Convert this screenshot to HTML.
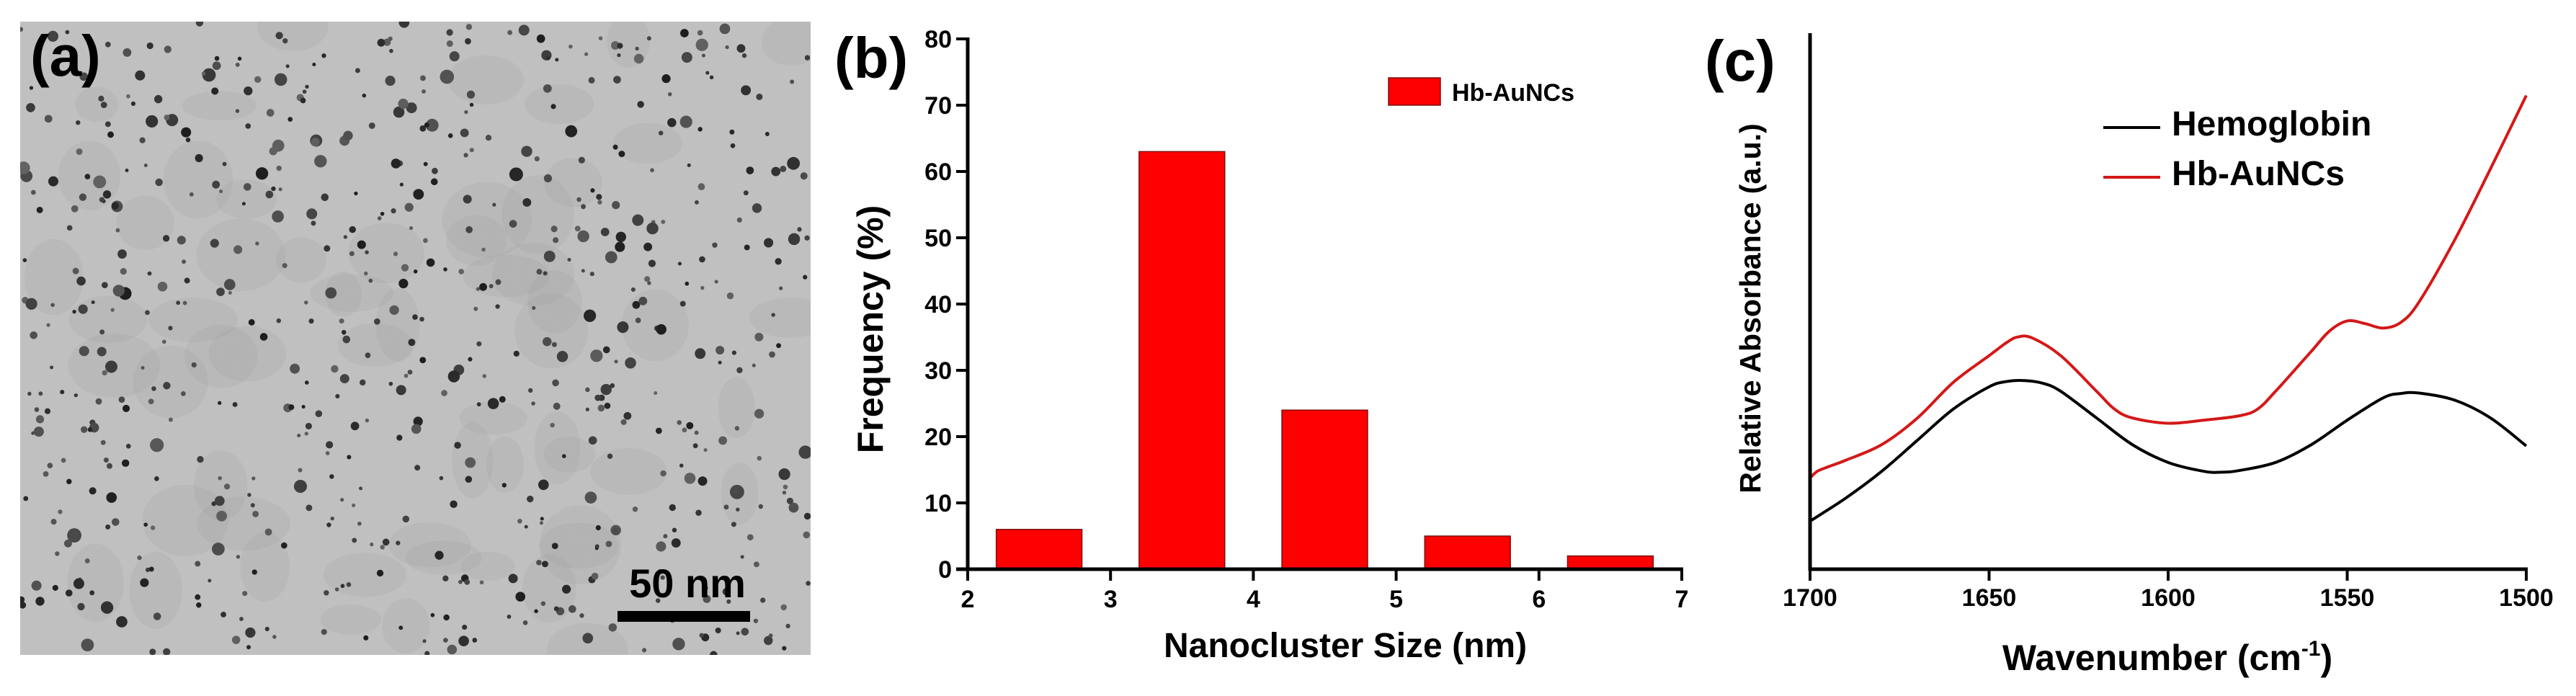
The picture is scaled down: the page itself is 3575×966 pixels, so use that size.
<!DOCTYPE html>
<html><head><meta charset="utf-8"><style>
html,body{margin:0;padding:0;background:#fff;}
svg{display:block;font-family:"Liberation Sans",Arial,sans-serif;font-weight:bold;}
</style></head><body>
<svg id="fig" width="3575" height="966" viewBox="0 0 3575 966" xmlns="http://www.w3.org/2000/svg">
<defs>
<filter id="grain" x="0" y="0" width="100%" height="100%">
<feTurbulence type="fractalNoise" baseFrequency="0.5" numOctaves="2" seed="3"/>
<feColorMatrix type="matrix" values="0 0 0 0 0.55  0 0 0 0 0.55  0 0 0 0 0.55  0 0 0 0.5 0"/>
</filter>
<clipPath id="clipA"><rect x="28" y="30" width="1097" height="879"/></clipPath>
</defs>
<g id="panelA">
<rect x="28" y="30" width="1097" height="879" fill="#bfbfbf"/>
<rect x="28" y="30" width="1097" height="879" filter="url(#grain)"/>
<g id="dots" clip-path="url(#clipA)"></g>
<rect x="857" y="848" width="184" height="15" fill="#000"/>
<text x="954" y="829" font-size="56" text-anchor="middle">50 nm</text>
<text x="42" y="105" font-size="80">(a)</text>
</g>
<g id="panelB"></g>
<g id="panelC"></g>
</svg>
<script>
// ---- Panel b data ----
const binStarts = [2.2, 3.2, 4.2, 5.2, 6.2];
const binEnds = [2.8, 3.8, 4.8, 5.8, 6.8];
const freqValues = [6, 63, 24, 5, 2];
const xTicksB = [2, 3, 4, 5, 6, 7];
const yTicksB = [0, 10, 20, 30, 40, 50, 60, 70, 80];
// ---- Panel c data ----
const wnHb = [1700,1690,1680,1670,1660,1650,1645,1640,1635,1630,1620,1610,1600,1590,1585,1580,1570,1560,1550,1540,1535,1530,1520,1510,1500];
const absHb = [10.8,16.0,22.0,29.0,36.0,41.0,42.2,42.4,41.8,40.0,34.0,28.0,24.0,22.0,21.8,22.2,24.0,28.0,33.5,38.5,39.5,39.6,38.0,34.0,27.7];
const wnAu = [1700,1698,1695,1690,1680,1670,1660,1650,1645,1642,1638,1630,1620,1615,1610,1600,1590,1580,1575,1570,1560,1555,1550,1545,1540,1535,1530,1520,1510,1500];
const absAu = [20.5,22.0,23.0,24.5,28.0,34.0,42.0,48.0,51.0,52.2,52.0,48.0,40.0,36.0,34.0,32.8,33.5,34.5,36.0,40.0,49.0,53.5,55.8,55.2,54.2,55.5,60.0,74.0,90.0,106.5];
const xTicksC = [1700, 1650, 1600, 1550, 1500];

const NS = "http://www.w3.org/2000/svg";
function mk(parent, tag, attrs, text) {
  const e = document.createElementNS(NS, tag);
  for (const k in attrs) e.setAttribute(k, attrs[k]);
  if (text !== undefined) e.textContent = text;
  parent.appendChild(e);
  return e;
}

// TEM dots (decorative)
(function(){
  const g = document.getElementById('dots');
  let s = 12345;
  function rnd(){ s = (s * 1103515245 + 12345) % 2147483648; return s / 2147483648; }
  for (let i = 0; i < 60; i++) {
    const c = mk(g, 'ellipse', {cx: 28 + rnd()*1097, cy: 30 + rnd()*879, rx: 25 + rnd()*40, ry: 20 + rnd()*35, fill: '#9a9a9a', opacity: 0.18});
    
    
  }
  for (let i = 0; i < 650; i++) {
    const r = 2.5 + rnd()*rnd()*8;
    const shade = Math.floor(30 + rnd()*70);
    const c = mk(g, 'circle', {cx: 28 + rnd()*1097, cy: 30 + rnd()*879, r: r, fill: 'rgb(' + shade + ',' + shade + ',' + shade + ')'});
    
    
  }
})();

// Panel b
(function(){
  const g = document.getElementById('panelB');
  const x0 = 1343, x1 = 2334, y0 = 790, y1 = 54;
  const xs = v => x0 + (v - 2) / 5 * (x1 - x0);
  const ys = v => y0 - v / 80 * (y0 - y1);
  for (let i = 0; i < freqValues.length; i++) {
    const b = mk(g, 'rect', {x: xs(binStarts[i]), y: ys(freqValues[i]), width: xs(binEnds[i]) - xs(binStarts[i]), height: y0 - ys(freqValues[i]), fill: '#ff0000', stroke: '#7a1010', 'stroke-width': 1.5});
    
    
  }
  const ya = mk(g, 'line', {x1: x0, y1: y1 - 2, x2: x0, y2: y0 + 2, stroke: '#000', 'stroke-width': 5});
  
  
  const xa = mk(g, 'line', {x1: x0 - 16, y1: y0, x2: x1 + 2, y2: y0, stroke: '#000', 'stroke-width': 5});
  
  
  yTicksB.forEach(v => {
    const t = mk(g, 'line', {x1: x0 - 16, y1: ys(v), x2: x0, y2: ys(v), stroke: '#000', 'stroke-width': 4});
    
    
    const l = mk(g, 'text', {x: x0 - 22, y: ys(v) + 12, 'font-size': 34, 'text-anchor': 'end'}, String(v));
    
    
  });
  xTicksB.forEach(v => {
    const t = mk(g, 'line', {x1: xs(v), y1: y0, x2: xs(v), y2: y0 + 16, stroke: '#000', 'stroke-width': 4});
    
    
    const l = mk(g, 'text', {x: xs(v), y: 843, 'font-size': 34, 'text-anchor': 'middle'}, String(v));
    
    
  });
  const xt = mk(g, 'text', {x: 1867, y: 912, 'font-size': 48, 'text-anchor': 'middle'}, 'Nanocluster Size (nm)');
  
  
  const yt = mk(g, 'text', {x: 0, y: 0, 'font-size': 50, 'text-anchor': 'middle', transform: 'translate(1225,457) rotate(-90)'}, 'Frequency (%)');
  
  
  const lr = mk(g, 'rect', {x: 1927, y: 108, width: 72, height: 38, fill: '#ff0000', stroke: '#7a1010', 'stroke-width': 1.5});
  
  
  const lt = mk(g, 'text', {x: 2015, y: 140, 'font-size': 34}, 'Hb-AuNCs');
  
  
  const pl = mk(g, 'text', {x: 1158, y: 108, 'font-size': 80}, '(b)');
  
  
})();

// Panel c
(function(){
  const g = document.getElementById('panelC');
  const x0 = 2512, x1 = 3506, y0 = 790, y1 = 46;
  const xs = w => x0 + (1700 - w) / 200 * (x1 - x0);
  const ys = v => y0 - v / 120.5 * (y0 - y1);
  function pathFor(wx, vy) {
    const p = wx.map((w, i) => [xs(w), ys(vy[i])]);
    let d = 'M' + p[0][0] + ',' + p[0][1];
    for (let i = 0; i < p.length - 1; i++) {
      const a = p[Math.max(0, i - 1)], b = p[i], c = p[i + 1], e = p[Math.min(p.length - 1, i + 2)];
      const c1x = b[0] + (c[0] - a[0]) / 6, c1y = b[1] + (c[1] - a[1]) / 6;
      const c2x = c[0] - (e[0] - b[0]) / 6, c2y = c[1] - (e[1] - b[1]) / 6;
      d += ' C' + c1x + ',' + c1y + ' ' + c2x + ',' + c2y + ' ' + c[0] + ',' + c[1];
    }
    return d;
  }
  const lb = mk(g, 'path', {d: pathFor(wnHb, absHb), fill: 'none', stroke: '#000', 'stroke-width': 4});
  
  
  const lr = mk(g, 'path', {d: pathFor(wnAu, absAu), fill: 'none', stroke: '#d41818', 'stroke-width': 4});
  
  
  const ya = mk(g, 'line', {x1: x0, y1: y1, x2: x0, y2: y0 + 2, stroke: '#000', 'stroke-width': 5});
  
  
  const xa = mk(g, 'line', {x1: x0 - 2, y1: y0, x2: x1 + 2, y2: y0, stroke: '#000', 'stroke-width': 5});
  
  
  xTicksC.forEach(w => {
    const t = mk(g, 'line', {x1: xs(w), y1: y0, x2: xs(w), y2: y0 + 16, stroke: '#000', 'stroke-width': 4});
    
    
    const l = mk(g, 'text', {x: xs(w), y: 841, 'font-size': 34, 'text-anchor': 'middle'}, String(w));
    
    
  });
  const xt = mk(g, 'text', {x: 3008, y: 930, 'font-size': 50, 'text-anchor': 'middle'});
  
  
  xt.appendChild(document.createTextNode('Wavenumber (cm'));
  mk(xt, 'tspan', {dy: -20, 'font-size': 30}, '-1');
  mk(xt, 'tspan', {dy: 20}, ')');
  const yt = mk(g, 'text', {x: 0, y: 0, 'font-size': 41, 'text-anchor': 'middle', transform: 'translate(2443,428) rotate(-90)'}, 'Relative Absorbance (a.u.)');
  
  
  const l1 = mk(g, 'line', {x1: 2919, y1: 177, x2: 2998, y2: 177, stroke: '#000', 'stroke-width': 4});
  
  
  const t1 = mk(g, 'text', {x: 3014, y: 188, 'font-size': 48}, 'Hemoglobin');
  
  
  const l2 = mk(g, 'line', {x1: 2919, y1: 246, x2: 2998, y2: 246, stroke: '#d41818', 'stroke-width': 4});
  
  
  const t2 = mk(g, 'text', {x: 3014, y: 257, 'font-size': 48}, 'Hb-AuNCs');
  
  
  const pl = mk(g, 'text', {x: 2366, y: 112, 'font-size': 80}, '(c)');
  
  
})();
</script>
</body></html>
